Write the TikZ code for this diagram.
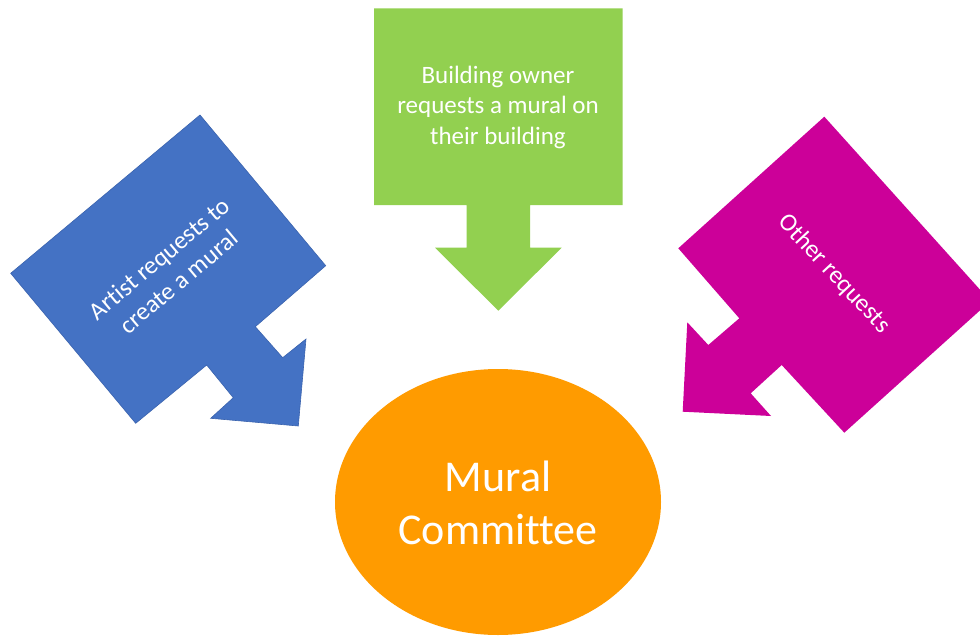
\documentclass[tikz,border=0pt]{standalone}
\usepackage{fontspec}
\setmainfont{Carlito}[Ligatures=NoCommon]
\usetikzlibrary{shapes.geometric}
\definecolor{cblue}{HTML}{4472C4}
\definecolor{cblueline}{HTML}{3A63AE}
\definecolor{cgreen}{HTML}{92D050}
\definecolor{cmag}{HTML}{CC0099}
\definecolor{corange}{HTML}{FF9B00}
\tikzset{
  callouttext/.style={text=white, align=center, font=\fontsize{25}{30.5}\selectfont, inner sep=0pt},
  bigtext/.style={text=white, align=center, font=\fontsize{44}{53}\selectfont},
}
\begin{document}
\begin{tikzpicture}[x=1pt,y=-1pt]
\useasboundingbox (0,0) rectangle (980,637);
\clip (0,0) rectangle (980,637);
\fill[white] (0,0) rectangle (980,637);
% blue callout
\filldraw[fill=cblue, draw=cblueline, line width=0.6pt]
  (200,115) -- (325.7,265.7) -- (255.3,326.7) -- (282.7,357.7) -- (306,339)
  -- (298.3,426) -- (210.7,418.3) -- (233.3,397.7) -- (206.7,365)
  -- (135.7,423.3) -- (10.7,273.3) -- cycle;
\node[callouttext, rotate=40] (artist) at (169,270) {Artist requests to\\create a mural};
% green callout
\fill[cgreen]
  (374,8.3) -- (622.7,8.3) -- (622.7,205) -- (530,205) -- (530,247.7) -- (561.7,247.7)
  -- (498.3,310.7) -- (435,247.7) -- (466.7,247.7) -- (466.7,205) -- (374,205) -- cycle;
\node[callouttext] (owner) at (498,107) {Building owner\\requests a mural on\\their building};
% magenta callout
\fill[cmag]
  (824.3,116.7) -- (990.3,301.1) -- (844.3,432.7) -- (781.7,365) -- (750.7,393.3)
  -- (771,416) -- (682.7,411.7) -- (687.3,322.3) -- (708.3,345) -- (739.3,318.3)
  -- (678.3,248.3) -- cycle;
\node[callouttext, rotate=-47] (other) at (834,274) {Other requests};
% ellipse
\node[ellipse, fill=corange, minimum width=326pt, minimum height=266pt, inner sep=0pt] (committee) at (498,502) {};
\node[bigtext] (label) at (498,503) {Mural\\Committee};
\end{tikzpicture}
\end{document}
